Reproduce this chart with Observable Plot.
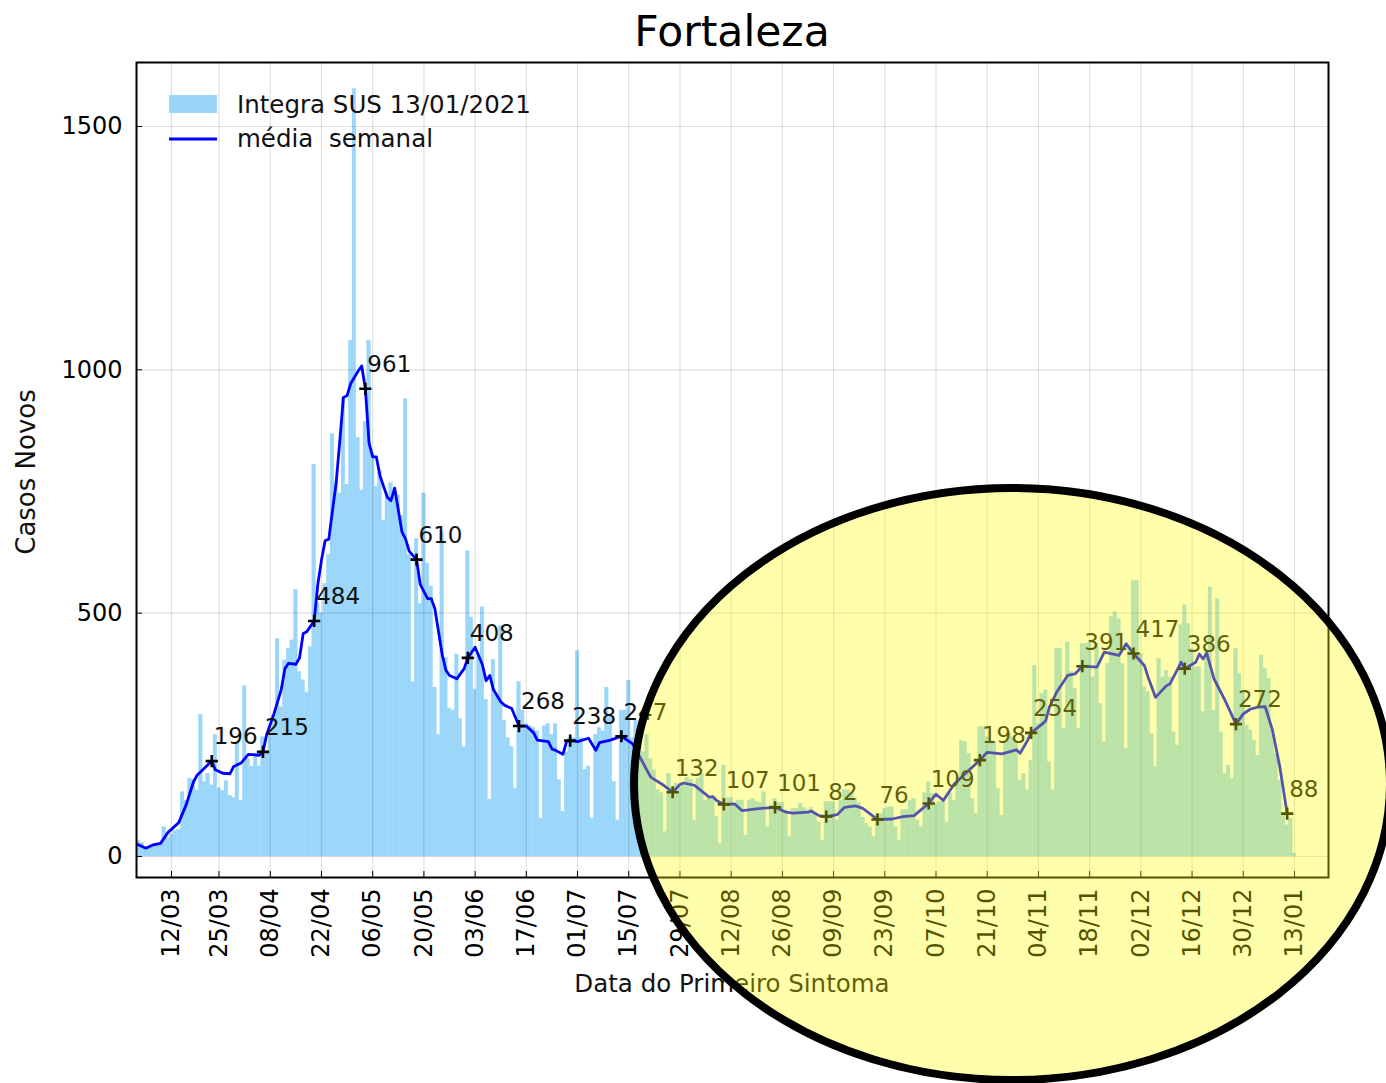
<!DOCTYPE html>
<html><head><meta charset="utf-8">
<script src="https://cdn.jsdelivr.net/npm/d3@7"></script>
<script src="https://cdn.jsdelivr.net/npm/@observablehq/plot@0.6"></script>
<style>
html,body{margin:0;padding:0;background:#fff;}
#wrap{position:relative;width:1386px;height:1083px;overflow:hidden;font-family:"DejaVu Sans",sans-serif;}
#wrap > svg{position:absolute;left:0;top:0;}
</style></head><body><div id="wrap"></div>
<script>
// ---- DATA ----
// first day of the series (index 0) = 02/03/2020, one value per day up to 13/01/2021
const seriesStart = "2020-03-02";
const dailyCases = [
  30,32,28,15,18,20,22,25,60,38,
  45,52,55,132,115,160,158,136,291,153,
  170,146,250,140,135,155,125,120,235,115,
  350,200,185,210,185,245,215,250,290,447,
  307,403,427,444,548,379,362,337,430,805,
  520,500,560,620,868,770,746,943,764,1060,
  1577,860,752,893,1060,827,760,793,690,740,
  767,739,742,700,940,620,358,652,519,746,
  602,555,347,250,667,408,304,300,415,282,
  225,627,491,343,415,512,322,117,404,330,
  473,279,243,225,139,358,300,272,268,264,
  257,78,268,272,250,272,157,92,214,243,
  243,422,243,178,185,78,250,264,257,347,
  290,153,74,300,300,361,243,279,240,215,
  250,200,177,136,130,50,170,140,150,140,
  150,162,158,74,160,170,115,122,122,81,
  26,187,120,120,108,115,115,43,115,118,
  112,110,132,60,105,118,110,110,95,40,
  98,98,108,100,95,100,90,70,33,112,
  112,112,74,115,136,136,130,120,110,80,
  67,60,40,88,88,98,101,101,60,33,
  95,95,115,118,74,60,130,153,129,108,
  112,112,70,129,115,160,238,235,211,118,
  88,266,266,245,238,235,139,84,235,252,
  245,235,156,170,136,197,392,273,334,341,
  194,136,427,427,262,440,379,345,262,437,
  437,440,368,437,314,235,396,492,502,488,
  396,221,430,566,566,416,348,338,252,184,
  406,368,382,368,255,228,475,516,478,427,
  389,389,297,423,553,300,529,255,170,187,
  160,427,375,338,269,259,238,207,413,386,
  365,259,211,156,84,64,77,6
];
// weekly mean (média semanal): day index -> value
const maDay = [0,3,5,7,9,12,14,16,17,21,22,24,26,27,29,31,34,35,36,38,40,41,42,44,45,46,47,49,50,51,52,53,54,55,56,57,58,59,61,62,63,64,65,66,67,69,70,71,73,74,75,77,78,80,81,82,84,85,86,88,90,91,93,95,96,97,98,100,101,103,104,105,107,109,110,113,114,115,117,118,119,121,124,126,127,130,133,136,138,141,144,147,149,150,153,157,158,159,161,164,166,170,175,178,180,184,185,187,189,192,194,197,199,203,207,210,213,217,219,221,224,228,231,233,237,241,242,244,245,248,249,250,252,255,257,259,263,265,269,271,273,276,277,279,282,283,286,287,290,291,292,293,295,298,301,303,305,307,309,311,313,315];
const maValue = [27,17,24,27,49,70,106,153,167,196,178,171,170,185,192,210,208,215,250,293,343,386,397,395,408,458,462,484,559,609,649,652,710,767,853,943,947,972,997,1008,961,850,821,821,782,738,731,757,667,652,627,610,559,530,530,509,415,383,372,365,386,408,430,394,361,372,343,318,311,304,286,268,268,254,239,236,221,218,210,236,238,236,243,218,234,239,247,232,205,163,149,132,148,151,146,122,123,115,107,108,94,98,101,91,89,91,93,84,82,86,101,104,99,76,77,82,84,109,128,115,149,177,198,214,211,219,212,238,254,272,279,307,338,372,375,391,389,420,413,437,417,392,368,327,351,355,399,386,399,416,406,418,365,321,272,293,303,307,308,259,184,88];
// annotated points (every 14 days)
const markerDay = [21,35,49,63,77,91,105,119,133,147,161,175,189,203,217,231,245,259,273,287,301,315];
const markerValue = [196,215,484,961,610,408,268,238,247,132,107,101,82,76,109,198,254,391,417,386,272,88];
// axis ticks
const tickDates = ["2020-03-12","2020-03-25","2020-04-08","2020-04-22","2020-05-06","2020-05-20","2020-06-03","2020-06-17","2020-07-01","2020-07-15","2020-07-29","2020-08-12","2020-08-26","2020-09-09","2020-09-23","2020-10-07","2020-10-21","2020-11-04","2020-11-18","2020-12-02","2020-12-16","2020-12-30","2021-01-13"];
const yTicks = [0, 500, 1000, 1500];
const titleText = "Fortaleza";
const xLabel = "Data do Primeiro Sintoma";
const yLabel = "Casos Novos";
const legendBars = "Integra SUS 13/01/2021";
const legendLine = "média  semanal";

// ---- BUILD ----
const DAY = 864e5;
const t0 = Date.parse(seriesStart + "T00:00:00Z");
const bars = dailyCases.map((v, i) => ({date: new Date(t0 + i * DAY), v}));
const ma = maDay.map((d, k) => ({date: new Date(t0 + d * DAY), v: maValue[k]}));
const pts = markerDay.map((d, k) => ({date: new Date(t0 + d * DAY), v: markerValue[k]}));
const ticks = tickDates.map(s => new Date(s + "T00:00:00Z"));

const barColor = "#9ad6fa";
const chart = Plot.plot({
  width: 1386, height: 1083,
  marginLeft: 136, marginRight: 58, marginTop: 62, marginBottom: 206,
  style: {fontFamily: '"DejaVu Sans", sans-serif', fontSize: "24px", color: "#000", background: "transparent", overflow: "visible"},
  x: {type: "utc", domain: [new Date(Date.UTC(2020, 2, 2, 10, 20)), new Date(Date.UTC(2021, 0, 22, 7, 10))]},
  y: {domain: [-43.2, 1631.5]},
  marks: [
    Plot.rect(bars, {x1: d => new Date(+d.date - DAY / 2), x2: d => new Date(+d.date + DAY / 2), y1: 0, y2: "v", fill: barColor, stroke: barColor, strokeWidth: 0.4, clip: true}),
    Plot.gridX(ticks, {stroke: "#000", strokeOpacity: 0.12, strokeWidth: 1.2}),
    Plot.gridY(yTicks, {stroke: "#000", strokeOpacity: 0.12, strokeWidth: 1.2}),
    Plot.lineY(ma, {x: "date", y: "v", stroke: "#0000ff", strokeWidth: 2.8, clip: true}),
    Plot.dot(pts, {x: "date", y: "v", symbol: "plus", r: 4, stroke: "#000", strokeWidth: 2.6}),
    Plot.text(pts, {x: "date", y: "v", text: d => String(d.v), dx: 2, dy: -24, textAnchor: "start", fontSize: 23, fill: "#111"}),
    Plot.axisX(ticks, {tickFormat: d3.utcFormat("%d/%m"), tickRotate: -90, tickSize: -6, tickPadding: 17, label: null}),
    Plot.axisY(yTicks, {tickFormat: d3.format("d"), tickSize: -6, tickPadding: 20, label: null}),
    Plot.frame({stroke: "#000", strokeWidth: 2})
  ]
});
const wrap = document.getElementById("wrap");
wrap.appendChild(chart);

// ---- overlay: titles, legend, highlight ellipse ----
const ov = d3.select(wrap).append("svg")
  .attr("width", 1386).attr("height", 1083)
  .style("font-family", '"DejaVu Sans", sans-serif');
ov.append("text").attr("x", 732).attr("y", 46).attr("text-anchor", "middle")
  .attr("font-size", 42.5).attr("fill", "#000").text(titleText);
ov.append("text").attr("x", 732).attr("y", 992).attr("text-anchor", "middle")
  .attr("font-size", 24.5).attr("fill", "#111").text(xLabel);
ov.append("text").attr("transform", "translate(35,472) rotate(-90)").attr("text-anchor", "middle")
  .attr("font-size", 26).attr("fill", "#111").text(yLabel);
ov.append("rect").attr("x", 169).attr("y", 95).attr("width", 48).attr("height", 18).attr("fill", barColor);
ov.append("line").attr("x1", 169).attr("x2", 217).attr("y1", 139).attr("y2", 139)
  .attr("stroke", "#0000ff").attr("stroke-width", 2.8);
ov.append("text").attr("x", 237).attr("y", 113).attr("font-size", 24.5).attr("fill", "#111").style("white-space", "pre").text(legendBars);
ov.append("text").attr("x", 237).attr("y", 147).attr("font-size", 24.5).attr("fill", "#111").style("white-space", "pre").text(legendLine);
ov.append("ellipse").attr("cx", 1012).attr("cy", 784).attr("rx", 378).attr("ry", 296)
  .attr("fill", "rgba(255,255,0,0.33)").attr("stroke", "#000").attr("stroke-width", 8);
</script></body></html>
